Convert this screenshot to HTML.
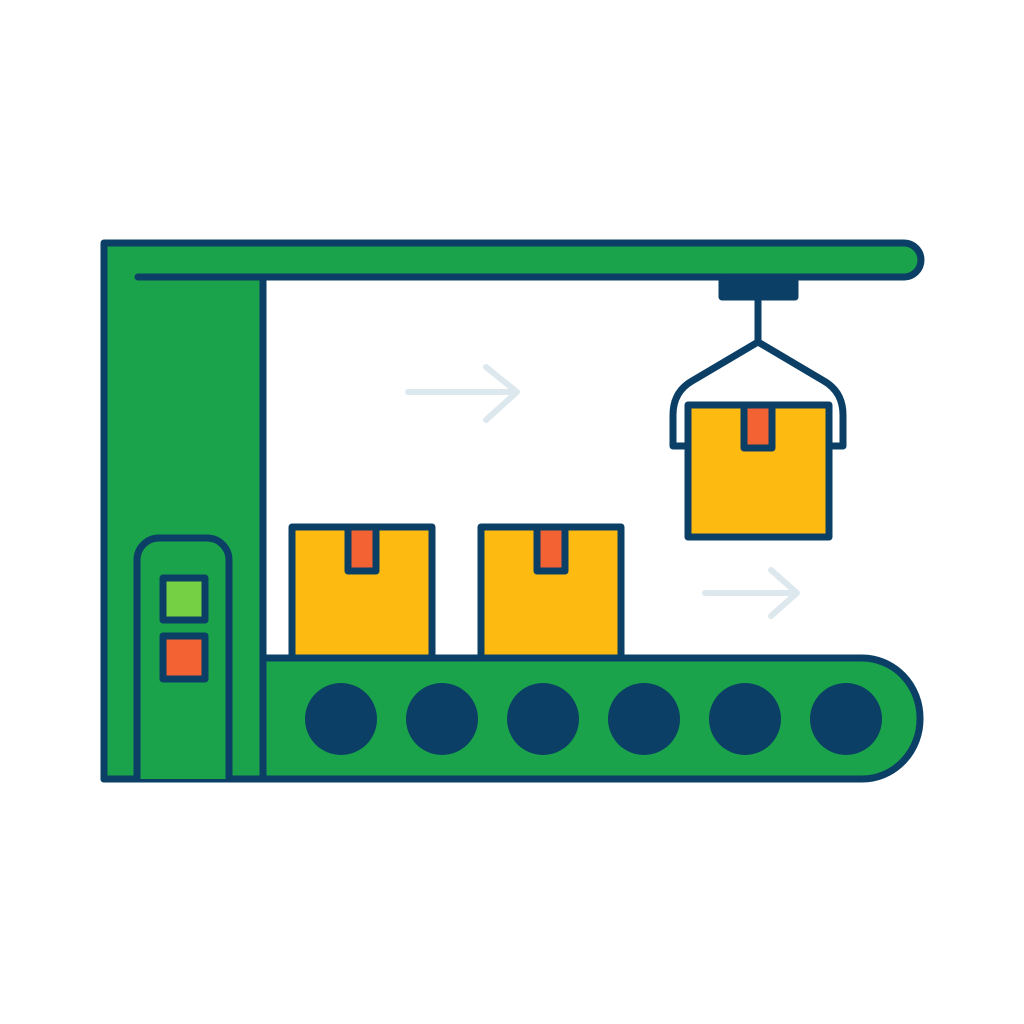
<!DOCTYPE html>
<html><head><style>html,body{margin:0;padding:0;background:#fff}svg{display:block}</style></head><body>
<svg width="1024" height="1024" viewBox="0 0 1024 1024" xmlns="http://www.w3.org/2000/svg">
<g stroke="#0b3f66" stroke-width="7" stroke-linejoin="round" stroke-linecap="round">
<!-- frame -->
<path d="M104 243 H904 A17 17 0 0 1 904 277 H263 V779 H104 Z" fill="#1aa34a"/>
<line x1="138" y1="277" x2="904" y2="277"/>
<!-- conveyor shadow -->
<path d="M263 660 H870 A52 58 0 0 1 922 718 A52 58 0 0 1 870 777 H263 Z" fill="#1aa34a" stroke="none"/>
<path d="M263 658 H862 A58 60 0 0 1 920 718 A58 60 0 0 1 862 779 H263 Z" fill="#1aa34a"/>
<line x1="104" y1="779" x2="263" y2="779"/>
<!-- panel -->
<path d="M137 779 V560 A22 22 0 0 1 159 538 H207 A22 22 0 0 1 229 560 V779" fill="#1aa34a"/>
<rect x="163" y="578" width="42" height="42" fill="#76d043"/>
<rect x="163" y="636" width="42" height="43" fill="#f26232"/>
<!-- boxes -->
<rect x="292" y="527" width="140" height="131" fill="#fdbb11"/>
<rect x="348" y="527" width="28" height="44" fill="#f26232"/>
<rect x="481" y="527" width="140" height="131" fill="#fdbb11"/>
<rect x="537" y="527" width="28" height="44" fill="#f26232"/>
<!-- hanger -->
<rect x="722" y="279" width="73" height="18" fill="#0b3f66"/>
<line x1="758" y1="297" x2="758" y2="342"/>
<path d="M688 446 H673 V415 Q673 392 692 381 L758 342 L824 381 Q843 392 843 415 V446 H829" fill="none"/>
<rect x="688" y="405" width="141" height="132" fill="#fdbb11"/>
<rect x="744" y="405" width="28" height="43" fill="#f26232"/>
</g>
<g fill="#0b3f66">
<circle cx="341" cy="719" r="36"/><circle cx="442" cy="719" r="36"/><circle cx="543" cy="719" r="36"/>
<circle cx="644" cy="719" r="36"/><circle cx="745" cy="719" r="36"/><circle cx="846" cy="719" r="36"/>
</g>
<g stroke="#dde8ee" stroke-width="6" fill="none" stroke-linecap="round" stroke-linejoin="round">
<path d="M408 392 H517 M486 367 L517 392 L486 420"/>
<path d="M705 593 H797 M771 570 L797 593 L771 616"/>
</g>
</svg>
</body></html>
